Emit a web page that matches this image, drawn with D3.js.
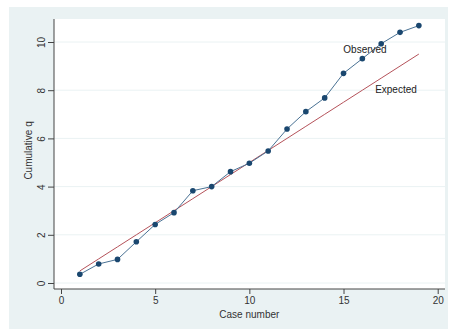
<!DOCTYPE html>
<html>
<head>
<meta charset="utf-8">
<script src="https://cdn.jsdelivr.net/npm/d3@7"></script>
<style>
  html, body { margin: 0; padding: 0; background: #ffffff; }
  svg { display: block; font-family: "Liberation Sans", Arial, sans-serif; }
</style>
</head>
<body>
<div id="chart"></div>
<script>
// Cumulative q by case number, observed versus expected
const caseNumbers = [1, 2, 3, 4, 5, 6, 7, 8, 9, 10, 11, 12, 13, 14, 15, 16, 17, 18, 19];
const observed = [0.36, 0.79, 0.98, 1.71, 2.43, 2.92, 3.83, 4.0, 4.62, 4.97, 5.48, 6.39, 7.11, 7.68, 8.7, 9.31, 9.93, 10.4, 10.68];
const expected = [0.5, 1.0, 1.5, 2.0, 2.5, 3.0, 3.5, 4.0, 4.5, 5.0, 5.5, 6.0, 6.5, 7.0, 7.5, 8.0, 8.5, 9.0, 9.5];
const xTicks = [0, 5, 10, 15, 20];
const yTicks = [0, 2, 4, 6, 8, 10];
const seriesLabels = ["Observed", "Expected"];

const W = 449, H = 329;
const svg = d3.select("#chart").append("svg").attr("width", W).attr("height", H);

// outer graph region
svg.append("rect").attr("x", 9).attr("y", 7).attr("width", W - 10).attr("height", H - 7)
  .attr("fill", "#eaf2f3");

// plot region bounds
const plotL = 54, plotR = 445, plotT = 19, plotB = 289;
svg.append("rect").attr("x", plotL).attr("y", plotT).attr("width", plotR - plotL).attr("height", plotB - plotT)
  .attr("fill", "#ffffff");

const x = d3.scaleLinear().domain([0, 20]).range([61, 437.7]);
const y = d3.scaleLinear().domain([0, 10]).range([283, 42]);

// gridlines
svg.append("g").selectAll("line").data(yTicks).join("line")
  .attr("x1", plotL).attr("x2", plotR)
  .attr("y1", d => y(d)).attr("y2", d => y(d))
  .attr("stroke", "#eaf2f3").attr("stroke-width", 1);

// axes
const xAxis = svg.append("g").attr("transform", `translate(0,${plotB})`)
  .call(d3.axisBottom(x).tickValues(xTicks).tickSize(5).tickPadding(3).tickSizeOuter(0));
xAxis.select(".domain").attr("d", `M${plotL},0H${plotR}`).attr("stroke", "#444");
xAxis.selectAll(".tick line").attr("stroke", "#444");
xAxis.selectAll(".tick text").attr("font-size", 10).attr("fill", "#333")
  .attr("font-family", "Liberation Sans, Arial, sans-serif");

const yAxis = svg.append("g").attr("transform", `translate(${plotL},0)`)
  .call(d3.axisLeft(y).tickValues(yTicks).tickSize(6).tickSizeOuter(0));
yAxis.select(".domain").attr("d", `M0,${plotT}V${plotB}`).attr("stroke", "#444");
yAxis.selectAll(".tick line").attr("stroke", "#444");
yAxis.selectAll(".tick text")
  .attr("font-size", 10).attr("fill", "#333")
  .attr("font-family", "Liberation Sans, Arial, sans-serif")
  .attr("x", null)
  .attr("text-anchor", "middle")
  .attr("transform", "translate(-13,0) rotate(-90)")
  .attr("dy", "0.35em");

// axis titles
svg.append("text").attr("x", x(10)).attr("y", 317.5).attr("text-anchor", "middle")
  .attr("font-size", 10).attr("fill", "#333").text("Case number");
svg.append("text").attr("transform", `translate(31.5,${y(5.5)}) rotate(-90)`)
  .attr("text-anchor", "middle").attr("font-size", 10).attr("fill", "#333").text("Cumulative q");

// expected line
const lineE = d3.line().x((d, i) => x(caseNumbers[i])).y(d => y(d));
svg.append("path").datum(expected).attr("d", lineE)
  .attr("fill", "none").attr("stroke", "#b5525a").attr("stroke-width", 1);

// observed connected line with markers
const lineO = d3.line().x((d, i) => x(caseNumbers[i])).y(d => y(d));
svg.append("path").datum(observed).attr("d", lineO)
  .attr("fill", "none").attr("stroke", "#4a7294").attr("stroke-width", 1);
svg.append("g").selectAll("circle").data(observed).join("circle")
  .attr("cx", (d, i) => x(caseNumbers[i])).attr("cy", d => y(d)).attr("r", 2.8)
  .attr("fill", "#1a476f");

// series labels
svg.append("text").attr("x", 365).attr("y", 49).attr("dy", "0.35em").attr("text-anchor", "middle")
  .attr("font-size", 10).attr("fill", "#222").text(seriesLabels[0]);
svg.append("text").attr("x", 396).attr("y", 89).attr("dy", "0.35em").attr("text-anchor", "middle")
  .attr("font-size", 10).attr("fill", "#222").text(seriesLabels[1]);
</script>
</body>
</html>
